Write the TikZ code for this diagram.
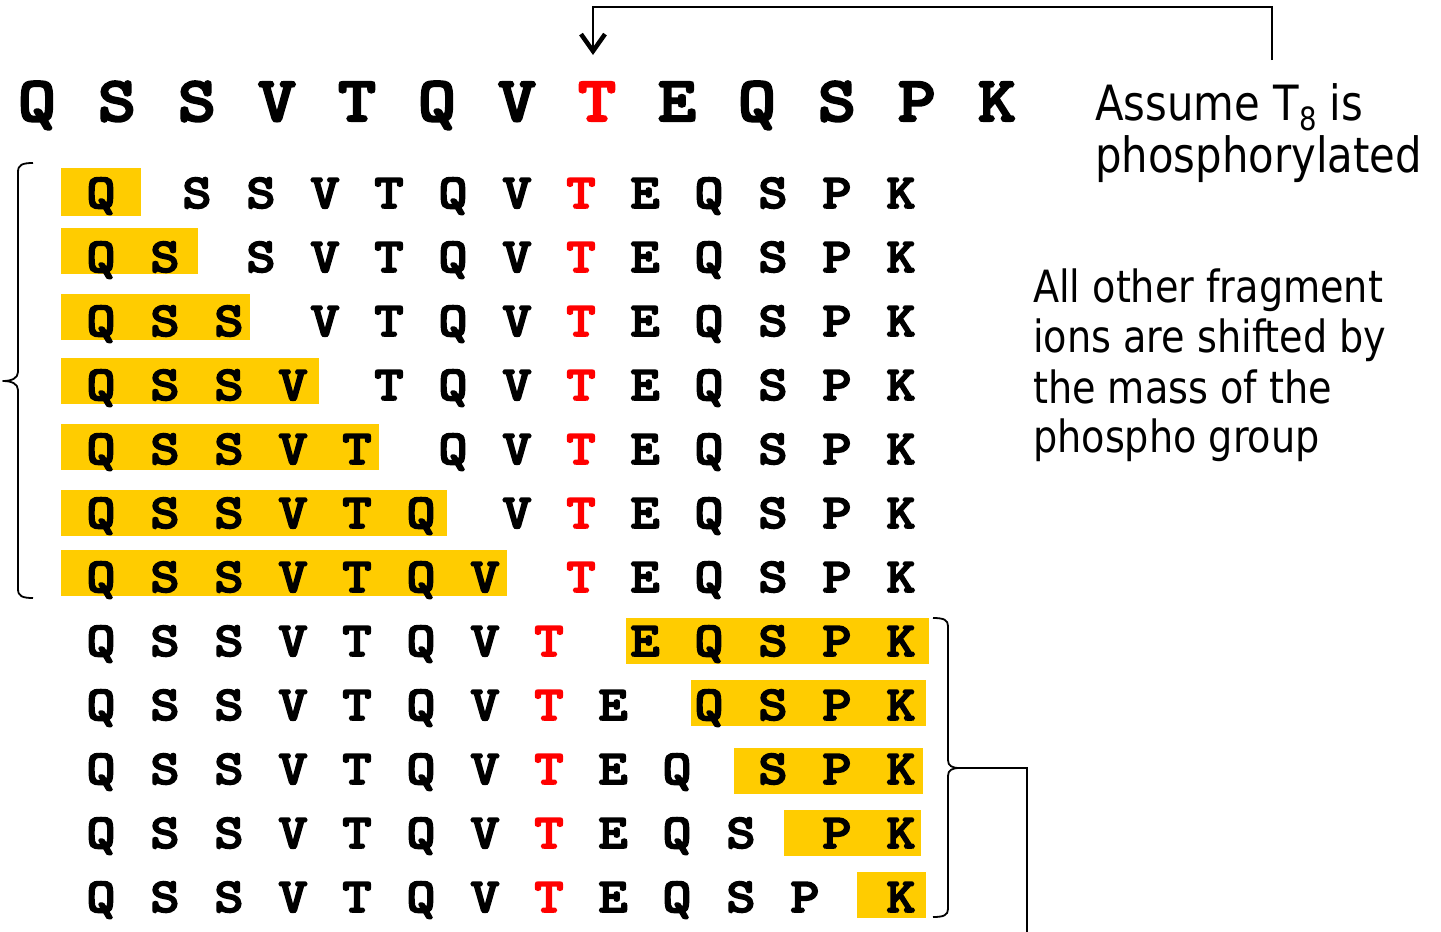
\documentclass[tikz,border=0pt]{standalone}
\usepackage{fontspec}
\usepackage{graphicx}
\usetikzlibrary{arrows.meta}
\newfontfamily\tahfont[FakeStretch=0.86]{DejaVu Sans}
\newfontfamily\seqfont[FakeBold=3.2,FakeStretch=1.14]{lmmonolt10-bold.otf}
\definecolor{hiyel}{RGB}{255,204,0}
\definecolor{tred}{RGB}{255,0,0}
\newcommand\seqlet[2]{{\seqfont\fontsize{#1}{#1}\selectfont #2}}
\tikzset{
  toplet/.style={anchor=base, inner sep=0pt},
  fraglet/.style={anchor=base, inner sep=0pt},
  hilite/.style={fill=hiyel, draw=none},
  brc/.style={line width=1.8pt, line join=round},
  conn/.style={line width=1.8pt},
  bignote/.style={anchor=base west, inner sep=0pt, font=\tahfont\fontsize{48.6}{52}\selectfont},
  smallnote/.style={anchor=base west, inner sep=0pt, font=\tahfont\fontsize{44.4}{50}\selectfont}
}
\begin{document}
\begin{tikzpicture}[x=1pt,y=-1pt]
\useasboundingbox (0,0) rectangle (1441,932);
% highlight boxes
\foreach \xa/\xb/\ya/\yb in {61/141/168/216, 61/198/228/274, 61/250/294/340, 61/319/358/404, 61/379/424/470, 61/447/490/536, 61/507/550/596, 626/929/618/664, 691/926/680/726, 734/923/748/794, 784/921/810/856, 857/926/872/918}
  \fill[hilite] (\xa,\ya) rectangle (\xb,\yb);
% top sequence
\foreach \l/\c [count=\i from 0] in {Q/black,S/black,S/black,V/black,T/black,Q/black,V/black,T/tred,E/black,Q/black,S/black,P/black,K/black}
  \node[toplet, text=\c] (t\i) at (37+80*\i,121) {\seqlet{64}{\l}};
% fragment rows
\foreach \r in {1,...,12}{
  \foreach \l/\c [count=\i from 0] in {Q/black,S/black,S/black,V/black,T/black,Q/black,V/black,T/tred,E/black,Q/black,S/black,P/black,K/black}{
    \pgfmathsetmacro\xx{101+64*\i+32*(\i>\r-0.5)}
    \pgfmathsetmacro\yy{208+64*(\r-1)}
    \node[fraglet, text=\c] (f\r c\i) at (\xx,\yy) {\seqlet{49}{\l}};
  }
}
% left brace
\draw[brc] (33,163) .. controls (22,163) and (18,165) .. (18,172) -- (18,372)
  .. controls (18,378) and (12,381) .. (3,381)
  .. controls (12,381) and (18,384) .. (18,390) -- (18,589)
  .. controls (18,596) and (22,598) .. (33,598);
% right brace
\draw[brc] (933,618) .. controls (944,618) and (948,620) .. (948,626) -- (948,760)
  .. controls (948,766) and (952,768) .. (960,768)
  .. controls (952,768) and (948,770) .. (948,776) -- (948,909)
  .. controls (948,915) and (944,917) .. (933,917);
\coordinate (rbtip) at (960,768);
\coordinate (rbend) at (1027,940);
\draw[conn] (rbtip) -| (rbend);
% notes
\node[bignote] (assume) at (1095,120) {Assume T\raisebox{-10pt}{\fontsize{32}{32}\selectfont 8} is};
\node[bignote] (phos) at (1095,172) {phosphorylated};
\node[smallnote] (n1) at (1033,302) {All other fragment};
\node[smallnote] (n2) at (1033,352) {ions are shifted by};
\node[smallnote] (n3) at (1033,403) {the mass of the};
\node[smallnote] (n4) at (1033,452) {phospho group};
% top connector
\coordinate (asstop) at (1272,60);
\coordinate (arrtip) at (593,55);
\draw[conn, -{Straight Barb[length=17pt,width=24pt,line width=4.5pt]}] (asstop) -- (1272,7) -| (arrtip);
\end{tikzpicture}
\end{document}
